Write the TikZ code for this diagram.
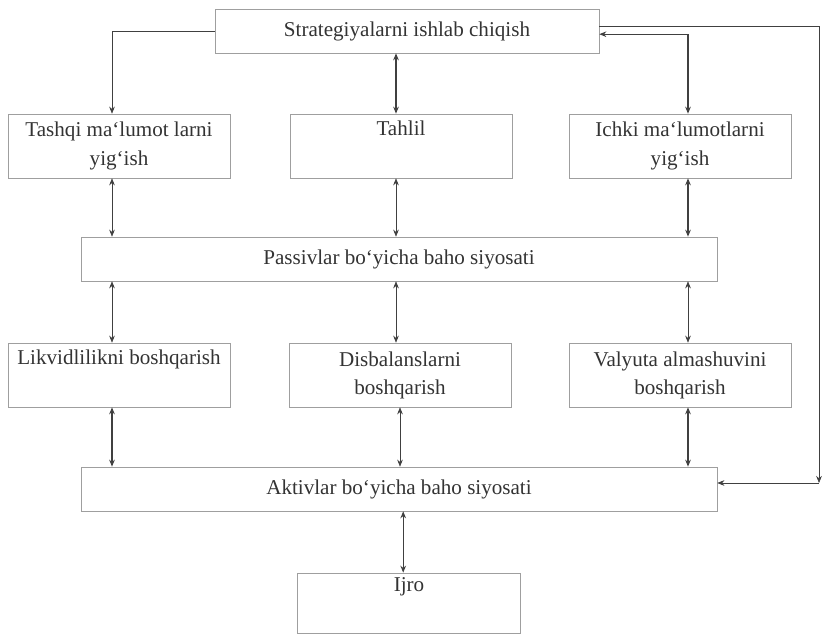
\documentclass[tikz,border=0pt]{standalone}
\usepackage{fontspec}
\setmainfont{Liberation Serif}
\usetikzlibrary{arrows.meta}

\tikzset{
  box/.style={draw=gray!75, thin, align=center, inner sep=2pt,
    font=\fontsize{15}{20}\selectfont, text=black!80},
  link/.style={draw=black!75, -{Stealth[length=5pt,width=4pt]}},
  both/.style={draw=black!75, {Stealth[length=5pt,width=4pt]}-{Stealth[length=5pt,width=4pt]}},
}

\begin{document}
\begin{tikzpicture}[x=0.025cm, y=-0.025cm]
            \useasboundingbox (0,0) rectangle (823,635);

            % Boxes
            \node[box, minimum width=9.6cm, minimum height=1.1cm] (strat) at (407,31) {Strategiyalarni ishlab chiqish};

            \node[box, minimum width=5.55cm, minimum height=1.6cm] (tashqi) at (119,146) {Tashqi ma‘lumot larni\\ yig‘ish};
            \node[box, minimum width=5.55cm, minimum height=1.6cm] (tahlil) at (401,146) {Tahlil\\ \strut};
            \node[box, minimum width=5.55cm, minimum height=1.6cm] (ichki) at (680,146) {Ichki ma‘lumotlarni\\ yig‘ish};

            \node[box, minimum width=15.9cm, minimum height=1.1cm] (passiv) at (399,259) {Passivlar bo‘yicha baho siyosati};

            \node[box, minimum width=5.55cm, minimum height=1.6cm] (likvid) at (119,375) {Likvidlilikni boshqarish\\ \strut};
            \node[box, minimum width=5.55cm, minimum height=1.6cm] (disbal) at (400,375) {Disbalanslarni\\ boshqarish};
            \node[box, minimum width=5.55cm, minimum height=1.6cm] (valyuta) at (680,375) {Valyuta almashuvini\\ boshqarish};

            \node[box, minimum width=15.9cm, minimum height=1.1cm] (aktiv) at (399,489) {Aktivlar bo‘yicha baho siyosati};

            \node[box, minimum width=5.58cm, minimum height=1.5cm] (ijro) at (409,603) {Ijro\\ \strut};

            % Columns of the connectors
            \coordinate (colL) at (112,0);
            \coordinate (colM) at (396,0);
            \coordinate (colR) at (688,0);
            \coordinate (cornerR) at (819,483);

            % From the top box
            \draw[link] (strat.west) -| (colL |- tashqi.north);
            \draw[both, thick] (colM |- strat.south) -- (colM |- tahlil.north);
            \draw[both, thick] ([yshift=-0.08cm]strat.east) -| (colR |- ichki.north);
            \draw[link] ([yshift=0.12cm]strat.east) -| (cornerR);
            \draw[link] (cornerR) -- (cornerR -| aktiv.east);

            % Second row to Passivlar
            \draw[both] (colL |- tashqi.south) -- (colL |- passiv.north);
            \draw[both] (colM |- tahlil.south) -- (colM |- passiv.north);
            \draw[both, thick] (colR |- ichki.south) -- (colR |- passiv.north);

            % Passivlar to third row
            \draw[both] (colL |- passiv.south) -- (colL |- likvid.north);
            \draw[both] (colM |- passiv.south) -- (colM |- disbal.north);
            \draw[both] (colR |- passiv.south) -- (colR |- valyuta.north);

            % Third row to Aktivlar
            \draw[both, thick] (colL |- likvid.south) -- (colL |- aktiv.north);
            \draw[both] ([xshift=0.1cm]colM |- disbal.south) -- ([xshift=0.1cm]colM |- aktiv.north);
            \draw[both, thick] (colR |- valyuta.south) -- (colR |- aktiv.north);

            % Aktivlar to Ijro
            \draw[both, thick] ([xshift=0.18cm]colM |- aktiv.south) -- ([xshift=0.18cm]colM |- ijro.north);

        \end{tikzpicture}
\end{document}
